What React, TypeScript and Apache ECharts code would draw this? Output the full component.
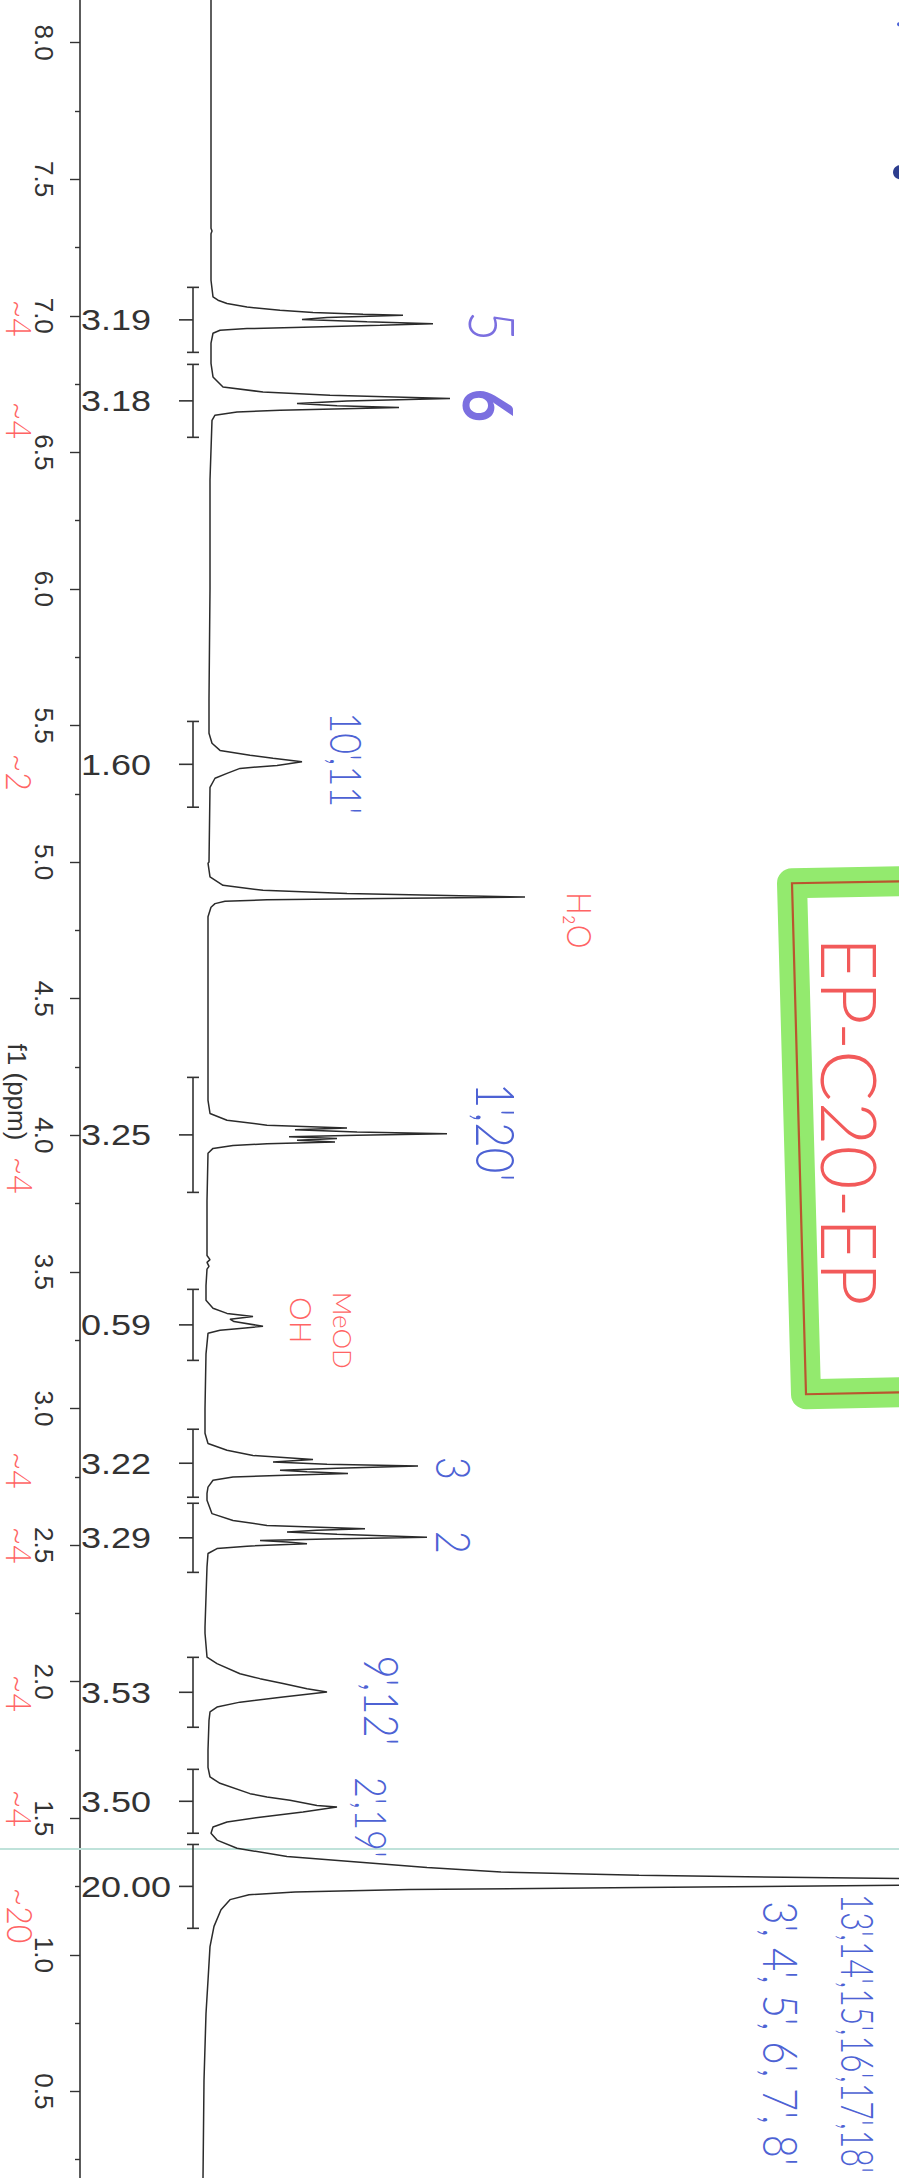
import React, { useEffect, useRef } from "react";
import * as echarts from "echarts";

// ---- Spectrum trace: [ppm, intensity] ----
const spectrum: [number, number][] = [
  [8.5, 4], [8.16, 4], [7.6, 4], [7.32, 4], [7.31, 5], [7.3, 4], [7.13, 4],
  [7.069, 6], [7.057, 11], [7.045, 20], [7.032, 40], [7.02, 73], [7.012, 106], [7.006, 156], [7.002, 196],
  [6.994, 120], [6.986, 95], [6.978, 160], [6.971, 226], [6.965, 173], [6.959, 106], [6.953, 40],
  [6.947, 13], [6.936, 6], [6.9, 4],
  [6.826, 4], [6.776, 6], [6.739, 16], [6.721, 56], [6.709, 123], [6.697, 243], [6.688, 140], [6.679, 90],
  [6.671, 130], [6.664, 192], [6.654, 73], [6.648, 30], [6.636, 8], [6.617, 5], [6.4, 3], [6.0, 3], [5.6, 2],
  [5.472, 2], [5.435, 5], [5.409, 13], [5.391, 43], [5.38, 66], [5.367, 95], [5.354, 70], [5.343, 33],
  [5.325, 20], [5.307, 8], [5.274, 3], [5.0, 2],
  [4.996, 1], [4.946, 3], [4.915, 16], [4.897, 56], [4.885, 140], [4.872, 318], [4.868, 200], [4.862, 60],
  [4.857, 18], [4.848, 8], [4.835, 4], [4.8, 1], [4.4, 1],
  [4.128, 1], [4.08, 3], [4.055, 20], [4.037, 60], [4.027, 140], [4.02, 88], [4.012, 150], [4.006, 240],
  [4.0, 150], [3.995, 82], [3.988, 130], [3.982, 90], [3.975, 128], [3.969, 60], [3.963, 26], [3.952, 6],
  [3.934, 1],
  [3.76, 0], [3.56, 0], [3.545, 3], [3.535, 0], [3.52, 2], [3.51, 0], [3.45, -1],
  [3.396, -1], [3.367, 6], [3.348, 20], [3.337, 46], [3.327, 23], [3.318, 27], [3.301, 56], [3.292, 30],
  [3.286, 13], [3.275, 1], [3.2, -1], [3.0, -2],
  [2.909, -2], [2.872, 1], [2.847, 20], [2.828, 46], [2.813, 106], [2.804, 66], [2.796, 120], [2.789, 211],
  [2.781, 130], [2.774, 73], [2.768, 100], [2.762, 141], [2.755, 70], [2.749, 26], [2.737, 6], [2.712, 1],
  [2.689, 0],
  [2.664, 0], [2.615, 5], [2.59, 26], [2.572, 60], [2.56, 158], [2.554, 110], [2.548, 80], [2.54, 130],
  [2.529, 220], [2.522, 120], [2.517, 53], [2.511, 80], [2.505, 100], [2.496, 40], [2.487, 10], [2.469, 1],
  [2.42, 0], [2.2, -2],
  [2.177, -2], [2.09, 0], [2.066, 10], [2.029, 33], [2.011, 53], [1.993, 76], [1.974, 100], [1.962, 120],
  [1.944, 76], [1.925, 33], [1.907, 10], [1.889, 3], [1.858, 2], [1.75, 1], [1.686, 1],
  [1.651, 3], [1.628, 13], [1.59, 43], [1.578, 60], [1.566, 83], [1.547, 110], [1.541, 130], [1.523, 96],
  [1.504, 53], [1.486, 20], [1.468, 6], [1.445, 4],
  [1.42, 10], [1.39, 30], [1.36, 80], [1.34, 150], [1.32, 220], [1.303, 294], [1.291, 432], [1.279, 692],
  [1.267, 1100], [1.255, 692], [1.246, 432], [1.239, 202], [1.23, 88], [1.22, 42], [1.202, 23], [1.165, 14],
  [1.104, 7], [1.03, 3], [0.906, 1], [0.785, -1], [0.54, -3], [0.18, -4], [0.0, -4],
];

// ---- Integrals ----
const integralStart = [7.104, 6.822, 5.515, 4.212, 3.436, 2.924, 2.653, 2.089, 1.679, 1.404];
const integralEnd = [6.866, 6.555, 5.201, 3.791, 3.176, 2.675, 2.4, 1.833, 1.445, 1.097];
const integralValues = [3.19, 3.18, 1.6, 3.25, 0.59, 3.22, 3.29, 3.53, 3.5, 20.0];

// ---- Cursor line ----
const cursorPpm = [1.385];

// ---- Hand-written annotations ----
const annotationTexts = [
  "5", "6", "10',11'", "H₂O", "1',20'", "MeOD", "OH", "3", "2", "9',12'", "2',19'",
  "3', 4', 5', 6', 7', 8'", "13',14',15',16',17',18'",
  "~4", "~4", "~2", "~4", "~4", "~4", "~4", "~4", "~20",
];
const annotationPpm = [
  6.962, 6.672, 5.362, 4.787, 4.011, 3.286, 3.323, 2.781, 2.51, 1.931, 1.503,
  0.712, 0.712,
  6.991, 6.617, 5.329, 3.854, 2.774, 2.499, 1.957, 1.536, 1.144,
];
const annotationIntensity = [
  286, 283, 140, 373, 290, 136, 95, 248, 248, 176, 165,
  575, 651,
  -187, -187, -187, -186, -187, -187, -187, -187, -186,
];

const BLUE = "#4d62d4";
const RED = "#ff6464";
const PURPLE = "#7b6fe0";
const annotationColors = [
  PURPLE, PURPLE, BLUE, RED, BLUE, RED, RED, BLUE, BLUE, BLUE, BLUE,
  BLUE, BLUE,
  RED, RED, RED, RED, RED, RED, RED, RED, RED,
];
const annotationSizes = [
  52, 58, 36, 30, 44, 26, 30, 40, 40, 40, 36,
  40, 32,
  32, 32, 32, 32, 32, 32, 32, 32, 32,
];
const annotationScaleY = [
  1.2, 1.2, 1.2, 1.1, 1.2, 1.0, 1.0, 1.2, 1.2, 1.2, 1.2,
  1.2, 1.4,
  1.1, 1.1, 1.1, 1.1, 1.1, 1.1, 1.1, 1.1, 1.1,
];

const AXIS_MIN = 0;
const AXIS_MAX = 8.5;
const VIEW_TOP_PPM = 8.155;
const VIEW_BOTTOM_PPM = 0.1815;
const PX_PER_PPM = 273.16;
const PAGE_H = 2178;
const EXTRA_TOP = (AXIS_MAX - VIEW_TOP_PPM) * PX_PER_PPM;
const EXTRA_BOTTOM = (VIEW_BOTTOM_PPM - AXIS_MIN) * PX_PER_PPM;

export default function App() {
  const ref = useRef<HTMLDivElement>(null);

  useEffect(() => {
    if (!ref.current) return;
    const chart = echarts.init(ref.current, undefined, { renderer: "svg" });

    const BRACKET_X = -14;
    const TICK_X = -28;
    const LABEL_X = -126;
    const offY = EXTRA_TOP; // page y = chart y - offY

    const option: any = {
      animation: false,
      backgroundColor: "#ffffff",
      grid: {
        left: 0,
        right: 0,
        top: 0,
        bottom: 0,
        containLabel: false,
        outerBoundsMode: "none",
      },
      xAxis: { type: "value", min: -207, max: 692, show: false },
      yAxis: {
        type: "value",
        min: AXIS_MIN,
        max: AXIS_MAX,
        interval: 0.5,
        position: "left",
        offset: -80,
        name: "f1 (ppm)",
        nameLocation: "middle",
        nameRotate: -90,
        nameGap: 50,
        nameMoveOverlap: false,
        nameTextStyle: {
          color: "#333",
          fontSize: 26,
          fontFamily: "Liberation Sans Narrow, Liberation Sans, sans-serif",
          padding: [0, 0, 0, 50],
        },
        axisLine: { show: true, onZero: false, lineStyle: { color: "#333", width: 1.6 } },
        axisTick: { show: true, inside: false, length: 10, lineStyle: { color: "#333", width: 1.4 } },
        minorTick: { show: true, splitNumber: 2, length: 5, lineStyle: { color: "#333", width: 1.4 } },
        splitLine: { show: false },
        minorSplitLine: { show: false },
        axisLabel: {
          rotate: -90,
          margin: 23,
          color: "#333",
          fontSize: 26,
          showMinLabel: false,
          showMaxLabel: false,
          fontFamily: "Liberation Sans Narrow, Liberation Sans, sans-serif",
          formatter: (v: number) => v.toFixed(1),
        },
      },
      graphic: [
        {
          type: "polyline",
          z: 1,
          shape: { points: [[905, 881 + offY], [792, 883 + offY], [806, 1394 + offY], [905, 1392 + offY]] },
          style: { stroke: "#93ea6e", lineWidth: 30, fill: "none", lineJoin: "round" },
        },
        {
          type: "polyline",
          z: 2,
          shape: { points: [[905, 881 + offY], [792, 883 + offY], [806, 1394 + offY], [905, 1392 + offY]] },
          style: { stroke: "#b9562f", lineWidth: 2.2, fill: "none" },
        },
        {
          type: "text",
          z: 3,
          x: 850,
          y: 1121 + offY,
          rotation: -Math.PI / 2,
          style: {
            text: "EP-C20-EP",
            fill: "#f25a5a",
            fontSize: 76,
            fontFamily: "Lato, sans-serif",
            fontWeight: 300,
            align: "center",
            verticalAlign: "middle",
          },
        },
        { type: "circle", z: 3, shape: { cx: 900, cy: 172 + offY, r: 7 }, style: { fill: "#2d3e8f" } },
        { type: "circle", z: 3, shape: { cx: 899, cy: 24 + offY, r: 2 }, style: { fill: "#4b63d8" } },
      ],
      series: [
        {
          type: "line",
          data: spectrum.map(([p, i]) => [i, p]),
          showSymbol: false,
          symbol: "none",
          z: 5,
          lineStyle: { color: "#2b2b2b", width: 1.5 },
          markLine: {
            silent: true,
            symbol: ["none", "none"],
            label: { show: false },
            lineStyle: { color: "#bfe2da", width: 2, type: "solid" },
            data: cursorPpm.map((p) => ({ yAxis: p })),
          },
        },
        {
          type: "custom",
          z: 6,
          data: integralStart.map((s, i) => [s, integralEnd[i], integralValues[i]]),
          encode: { y: [0, 1] },
          renderItem: (params: any, api: any) => {
            const s = api.value(0);
            const e = api.value(1);
            const v = api.value(2);
            const top = api.coord([BRACKET_X, s]);
            const bot = api.coord([BRACKET_X, e]);
            const tick = api.coord([TICK_X, (s + e) / 2]);
            const lab = api.coord([LABEL_X, (s + e) / 2]);
            const midY = (top[1] + bot[1]) / 2;
            const st = { stroke: "#333", lineWidth: 1.6 };
            return {
              type: "group",
              children: [
                { type: "line", shape: { x1: top[0], y1: top[1], x2: bot[0], y2: bot[1] }, style: st },
                { type: "line", shape: { x1: top[0] - 6, y1: top[1], x2: top[0] + 6, y2: top[1] }, style: st },
                { type: "line", shape: { x1: bot[0] - 6, y1: bot[1], x2: bot[0] + 6, y2: bot[1] }, style: st },
                { type: "line", shape: { x1: tick[0], y1: midY, x2: top[0], y2: midY }, style: st },
                {
                  type: "text",
                  x: lab[0],
                  y: midY,
                  scaleX: 1.2,
                  style: {
                    text: Number(v).toFixed(2),
                    fill: "#333",
                    fontSize: 30,
                    fontFamily: "Liberation Sans, Arial, sans-serif",
                    align: "left",
                    verticalAlign: "middle",
                  },
                },
              ],
            };
          },
        },
        {
          type: "custom",
          z: 7,
          data: annotationIntensity.map((x, i) => [x, annotationPpm[i]]),
          renderItem: (params: any, api: any) => {
            const idx = params.dataIndex;
            const pos = api.coord([api.value(0), api.value(1)]);
            return {
              type: "text",
              x: pos[0],
              y: pos[1],
              rotation: -Math.PI / 2,
              scaleY: annotationScaleY[idx],
              style: {
                text: annotationTexts[idx],
                fill: annotationColors[idx],
                fontSize: annotationSizes[idx],
                fontFamily: "Lato, sans-serif",
                fontWeight: idx === 1 ? 700 : 300,
                align: "center",
                verticalAlign: "middle",
              },
            };
          },
        },
      ],
    };

    chart.setOption(option);
    return () => chart.dispose();
  }, []);

  return (
    <div
      style={{
        position: "absolute",
        left: 0,
        top: 0,
        width: 899,
        height: PAGE_H,
        overflow: "hidden",
        background: "#fff",
      }}
    >
      <div
        ref={ref}
        style={{
          position: "absolute",
          left: 0,
          top: -EXTRA_TOP,
          width: 899,
          height: PAGE_H + EXTRA_TOP + EXTRA_BOTTOM,
        }}
      />
    </div>
  );
}
